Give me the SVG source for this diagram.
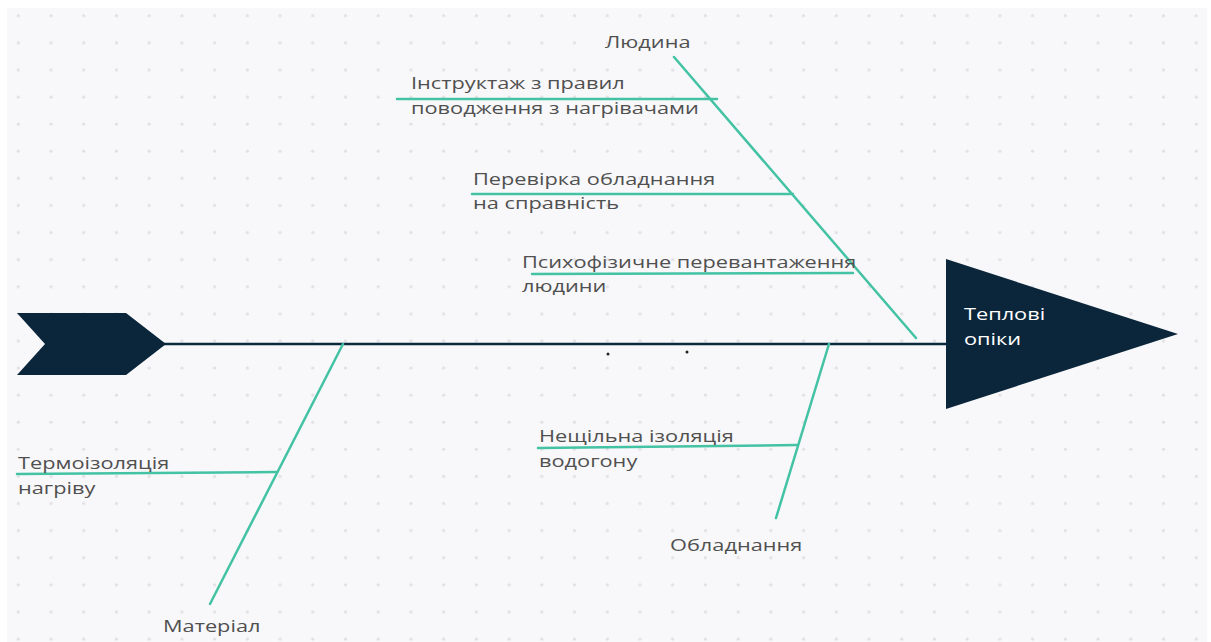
<svg xmlns="http://www.w3.org/2000/svg" width="1211" height="642" viewBox="0 0 1211 642">
<defs>
<pattern id="dots" x="2" y="2" width="32.72" height="27.1" patternUnits="userSpaceOnUse">
<circle cx="16.3" cy="13.7" r="1.6" fill="#e1e1e5"/>
</pattern>
<style>
.lbl{font-family:"Open Sans","Noto Sans",sans-serif;font-size:17px;fill:#505050}
.wl{font-family:"Open Sans","Noto Sans",sans-serif;font-size:17px;fill:#ffffff}
.bone{stroke:#43c2a4;stroke-width:2.5;fill:none;stroke-linecap:round}
.spine{stroke:#0b2a3f;stroke-width:2.5;fill:none}
.shape{fill:#0b263b}
</style>
</defs>
<rect x="0" y="0" width="1211" height="642" fill="#ffffff"/>
<rect x="7" y="8" width="1200" height="634" fill="#f8f8fa"/>
<rect x="7" y="8" width="1200" height="634" fill="url(#dots)"/>
<g id="connectors">
<line class="spine" x1="160" y1="344" x2="947" y2="344"/>
<line class="bone" x1="674" y1="57" x2="916" y2="338"/>
<line class="bone" x1="397" y1="99" x2="717" y2="99"/>
<line class="bone" x1="472" y1="194" x2="793" y2="194"/>
<line class="bone" x1="532" y1="274" x2="853" y2="273"/>
<line class="bone" x1="343" y1="344" x2="210" y2="604"/>
<line class="bone" x1="17" y1="474" x2="277" y2="472"/>
<line class="bone" x1="829" y1="344" x2="776" y2="518"/>
<line class="bone" x1="538" y1="448" x2="797" y2="445"/>
</g>
<g id="start">
<polygon class="shape" points="17,313 126,313 166,344 126,375 17,375 45,344"/>
</g>
<g id="head">
<polygon class="shape" points="946,259 1178,334 946,409"/>
<text class="wl" transform="translate(964 320) scale(1.28 1)">Теплові</text>
<text class="wl" transform="translate(964 345) scale(1.28 1)">опіки</text>
</g>
<g id="people">
<text class="lbl" transform="translate(605 48) scale(1.28 1)">Людина</text>
</g>
<g id="cause1">
<text class="lbl" transform="translate(411 89) scale(1.28 1)">Інструктаж з правил</text>
<text class="lbl" transform="translate(411 114) scale(1.28 1)">поводження з нагрівачами</text>
</g>
<g id="cause2">
<text class="lbl" transform="translate(473 185) scale(1.28 1)">Перевірка обладнання</text>
<text class="lbl" transform="translate(473 209) scale(1.28 1)">на справність</text>
</g>
<g id="cause3">
<text class="lbl" transform="translate(522 268) scale(1.28 1)">Психофізичне перевантаження</text>
<text class="lbl" transform="translate(522 292) scale(1.28 1)">людини</text>
</g>
<g id="material">
<text class="lbl" transform="translate(163 632) scale(1.28 1)">Матеріал</text>
</g>
<g id="cause4">
<text class="lbl" transform="translate(18 469) scale(1.28 1)">Термоізоляція</text>
<text class="lbl" transform="translate(18 494) scale(1.28 1)">нагріву</text>
</g>
<g id="equipment">
<text class="lbl" transform="translate(670 551) scale(1.28 1)">Обладнання</text>
</g>
<g id="cause5">
<text class="lbl" transform="translate(539 442) scale(1.28 1)">Нещільна ізоляція</text>
<text class="lbl" transform="translate(539 467) scale(1.28 1)">водогону</text>
</g>
<g id="marks">
<circle cx="608" cy="354" r="1.5" fill="#222"/>
<circle cx="687" cy="352" r="1.5" fill="#222"/>
</g>
</svg>
